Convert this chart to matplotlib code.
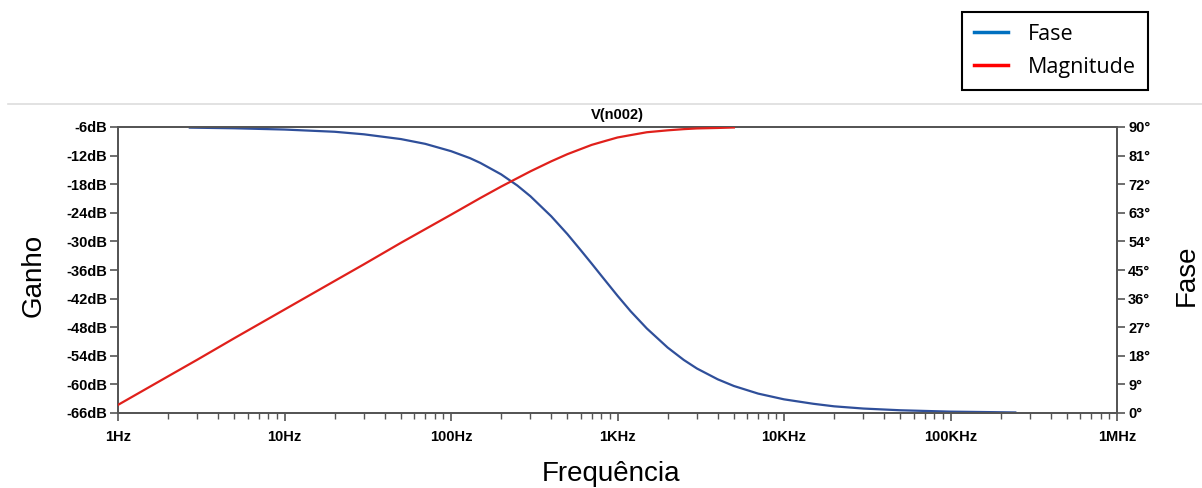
import numpy as np
import matplotlib.pyplot as plt

# magnitude (dB)
f_mag = [1, 2, 3, 5, 10, 20, 30, 50, 100, 150, 200, 300, 400, 500, 700, 850, 1000,
         1200, 1500, 2000, 2500, 3000, 4000, 5000]
mag_db = [-64.3, -58.3, -54.8, -50.3, -44.3, -38.3, -34.8, -30.3, -24.4, -20.9, -18.5,
          -15.3, -13.2, -11.7, -9.75, -8.9, -8.2, -7.7, -7.1, -6.7, -6.45, -6.3, -6.2, -6.1]

# phase (deg)
f_ph = [2.7, 5, 10, 20, 30, 50, 70, 100, 130, 150, 200, 250, 300, 400, 500, 600, 700,
        800, 1000, 1200, 1500, 2000, 2500, 3000, 4000, 5000, 7000, 10000, 15000, 20000,
        30000, 50000, 100000, 245000]
phase_deg = [89.8, 89.6, 89.2, 88.5, 87.7, 86.2, 84.7, 82.4, 80.2, 78.7, 75.1, 71.6, 68.2,
             61.9, 56.3, 51.3, 47.0, 43.2, 36.9, 32.0, 26.6, 20.6, 16.7, 14.0, 10.6, 8.5,
             6.1, 4.3, 2.9, 2.1, 1.4, 0.86, 0.43, 0.18]

x_ticks = [1, 10, 100, 1e3, 1e4, 1e5, 1e6]
x_labels = ['1Hz', '10Hz', '100Hz', '1KHz', '10KHz', '100KHz', '1MHz']
db_ticks = list(range(-66, -5, 6))
deg_ticks = list(range(0, 91, 9))

tick_font = dict(family=['Liberation Sans Narrow', 'Liberation Sans', 'DejaVu Sans'],
                 weight='bold', size=10.5)

fig = plt.figure(figsize=(12.02, 4.88), dpi=100)
ax = fig.add_axes([118/1202, 75/488, 999/1202, 286/488])
ax2 = ax.twinx()

ax.plot(f_mag, mag_db, color='#E0201B', lw=1.6, zorder=3)
ax2.plot(f_ph, phase_deg, color='#2F4F9A', lw=1.6)
ax.set_zorder(ax2.get_zorder() + 1)
ax.patch.set_visible(False)

ax.set_xscale('log')
ax.set_xlim(1, 1e6)
ax.set_ylim(-66, -6)
ax2.set_ylim(0, 90)

ax.set_xticks(x_ticks)
ax.set_xticklabels(x_labels, fontdict=tick_font)
ax.set_yticks(db_ticks)
ax.set_yticklabels([f'{v}dB' for v in db_ticks], fontdict=tick_font)
ax2.set_yticks(deg_ticks)
ax2.set_yticklabels([f'{v}°' for v in deg_ticks], fontdict=tick_font)

gray = '#555555'
for a in (ax, ax2):
    for s in a.spines.values():
        s.set_color(gray)
        s.set_linewidth(1.3)
ax.tick_params(axis='both', which='major', color=gray, width=1.2, length=6, pad=2)
ax.tick_params(axis='x', which='minor', color=gray, width=1.0, length=4)
ax.tick_params(axis='x', which='major', pad=6)
ax2.tick_params(axis='y', color=gray, width=1.2, length=6, pad=2)

label_font = dict(family=['Liberation Sans', 'DejaVu Sans'], size=20)
fig.text(34/1202, 1 - 275/488, 'Ganho', rotation=90, ha='center', va='center', **label_font)
fig.text(1187/1202, 1 - 275/488, 'Fase', rotation=90, ha='center', va='center', **label_font)
fig.text(611/1202, 1 - 474/488, 'Frequência', ha='center', va='center', **label_font)
fig.text(617/1202, 1 - 115/488, 'V(n002)', ha='center', va='center', **tick_font)

# separator line
fig.add_artist(plt.Line2D([8/1202, 1], [1 - 104/488, 1 - 104/488], color='#dddddd', lw=1.2))

# legend box
leg = fig.legend(handles=[plt.Line2D([], [], color='#0070C0', lw=2.5, label='Fase'),
                          plt.Line2D([], [], color='#FF0000', lw=2.5, label='Magnitude')],
                 loc='upper left', bbox_to_anchor=(962/1202, 1 - 12/488),
                 prop={'family': ['Open Sans', 'DejaVu Sans'], 'size': 15.5},
                 fancybox=False, edgecolor='black', framealpha=1, handlelength=1.6,
                 borderpad=0.55, labelspacing=0.55, handletextpad=0.9, borderaxespad=0)
leg.get_frame().set_linewidth(1.5)

fig.savefig('out.png', dpi=100)
